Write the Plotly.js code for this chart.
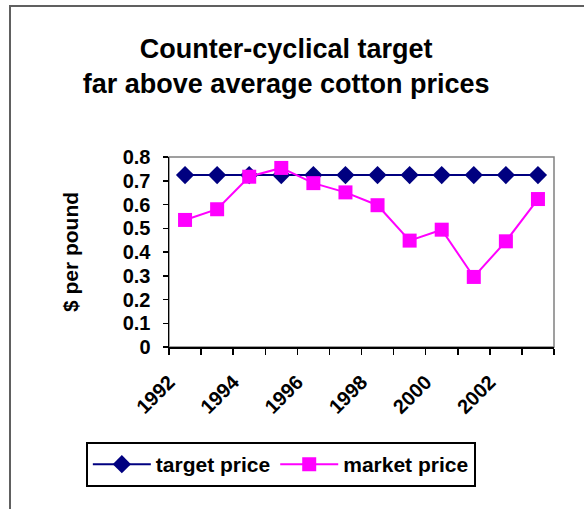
<!DOCTYPE html>
<html>
<head>
<meta charset="utf-8">
<script src="https://cdn.plot.ly/plotly-3.0.1.min.js"></script>
<style>
  html, body { margin: 0; padding: 0; background: #fff; }
  #wrap { position: relative; width: 584px; height: 509px; overflow: hidden; }
  #frame { position: absolute; left: 9px; top: 5px; width: 600px; height: 520px;
           border-left: 2px solid #606060; border-top: 2px solid #606060; pointer-events: none; }
  #chart { position: absolute; left: 0; top: 0; width: 584px; height: 509px; }
</style>
</head>
<body>
<div id="wrap">
  <div id="chart"></div>
  <div id="frame"></div>
</div>
<script>
const years = [1992, 1993, 1994, 1995, 1996, 1997, 1998, 1999, 2000, 2001, 2002, 2003];
const targetPrice = [0.724, 0.724, 0.724, 0.724, 0.724, 0.724, 0.724, 0.724, 0.724, 0.724, 0.724, 0.724];
const marketPrice = [0.535, 0.58, 0.717, 0.754, 0.69, 0.651, 0.597, 0.448, 0.494, 0.295, 0.445, 0.623];
const xTickLabels = [1992, 1994, 1996, 1998, 2000, 2002];
const yTicks = [0, 0.1, 0.2, 0.3, 0.4, 0.5, 0.6, 0.7, 0.8];
const seriesNames = ['target price', 'market price'];

const FONT = 'Liberation Sans, Arial, sans-serif';

const traces = [
  {
    x: years, y: targetPrice, name: '<b>' + seriesNames[0] + '</b>', type: 'scatter', mode: 'lines+markers',
    line: { color: '#000080', width: 2 },
    marker: { symbol: 'diamond', size: 14, color: '#000080' }
  },
  {
    x: years, y: marketPrice, name: '<b>' + seriesNames[1] + '</b>', type: 'scatter', mode: 'lines+markers',
    line: { color: '#FF00FF', width: 2 },
    marker: { symbol: 'square', size: 14, color: '#FF00FF' }
  }
];

const layout = {
  width: 584, height: 509,
  margin: { l: 169, r: 30, t: 157, b: 162 },
  paper_bgcolor: 'rgba(0,0,0,0)', plot_bgcolor: '#fff',
  font: { family: FONT, color: '#000' },
  showlegend: true,
  title: {
    text: '<b>Counter-cyclical target<br>far above average cotton prices</b>',
    font: { family: FONT, size: 27, color: '#000' },
    x: 0.49, xref: 'container', xanchor: 'center',
    y: 1 - 58 / 509, yref: 'container', yanchor: 'top'
  },
  xaxis: {
    type: 'linear', range: [1991.5, 2003.5],
    tickmode: 'array', tickvals: xTickLabels, ticktext: xTickLabels.map(v => '<b>' + v + '</b>'),
    ticks: '', tickangle: -45, ticklabelstandoff: 14, ticklabelshift: -16,
    tickfont: { family: FONT, size: 20, color: '#000' },
    showgrid: false, zeroline: false,
    showline: true, linecolor: '#000', linewidth: 1.5,
    minor: { tickmode: 'linear', tick0: 1991.5, dtick: 1, ticks: 'outside', ticklen: 6, tickcolor: '#000', tickwidth: 1.5, showgrid: false },
    fixedrange: true
  },
  yaxis: {
    range: [0, 0.8], tickmode: 'array', tickvals: yTicks,
    ticktext: yTicks.map(v => '<b>' + (v === 0 ? '0' : v.toFixed(1)) + '</b>'),
    ticks: 'outside', ticklen: 5, tickcolor: '#000', tickwidth: 1.5, ticklabelstandoff: 8,
    tickfont: { family: FONT, size: 20, color: '#000' },
    showgrid: false, zeroline: false,
    showline: true, linecolor: '#000', linewidth: 1.5,
    title: { text: '<b>$ per pound</b>', font: { family: FONT, size: 21, color: '#000' }, standoff: 38 },
    fixedrange: true
  },
  shapes: [
    { type: 'rect', xref: 'paper', yref: 'paper', x0: 0, x1: 1, y0: 0, y1: 1,
      line: { color: '#808080', width: 1.5 }, layer: 'below' }
  ],
  legend: {
    orientation: 'h', x: -0.216, xanchor: 'left', y: -0.50, yanchor: 'top',
    bordercolor: '#000', borderwidth: 2, bgcolor: '#fff',
    font: { family: FONT, size: 21, color: '#000' },
    itemwidth: 58, tracegroupgap: 0
  }
};

Plotly.newPlot('chart', traces, layout, { displayModeBar: false, staticPlot: true });
</script>
</body>
</html>
